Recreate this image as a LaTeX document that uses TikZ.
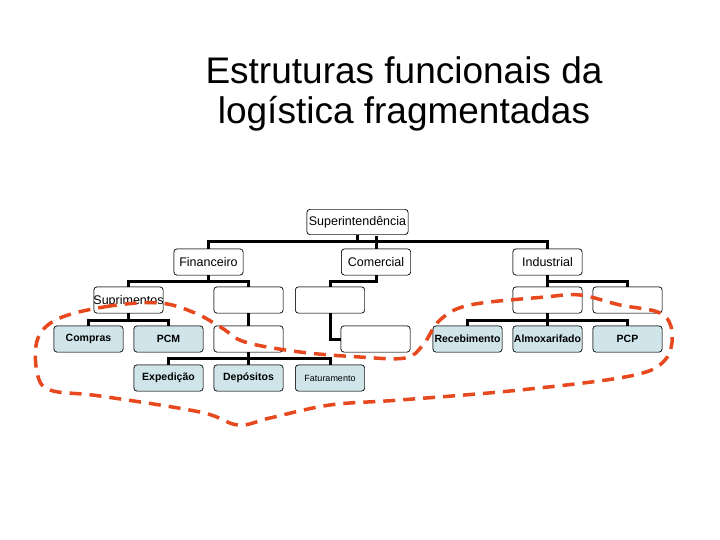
\documentclass[tikz,border=0pt]{standalone}
\usepackage{fontspec}
\setmainfont{Liberation Sans}
\begin{document}
\begin{tikzpicture}[x=1pt,y=-1pt,
  box/.style={draw=black,rounded corners=3pt,minimum width=69pt,minimum height=26pt,inner sep=0pt,fill=white,font=\fontsize{12.5}{14}\selectfont},
  leaf/.style={box,fill={rgb,255:red,207;green,229;blue,234},font=\bfseries\fontsize{10.5}{12}\selectfont},
  conn/.style={line width=3pt},
  loop/.style={draw={rgb,255:red,232;green,72;blue,30},line width=3.5pt,dash pattern=on 12pt off 8pt}]
\useasboundingbox (0,0) rectangle (720,540);
\node[font=\fontsize{37}{40}\selectfont,align=center] (title) at (404,94) {Estruturas funcionais da\\logística fragmentadas};
% boxes
\node[box,minimum width=101pt,minimum height=25pt] (sup) at (357.5,222) {Superintendência};
\node[box] (fin) at (208.5,262) {Financeiro};
\node[box] (com) at (376,262) {Comercial};
\node[box] (ind) at (547.5,262) {Industrial};
\node[box] (supr) at (128.5,300) {};
\node[box] (b1) at (248.5,300) {};
\node[box] (b2) at (330,300) {};
\node[box] (i1) at (547.5,300) {};
\node[box] (i2) at (627.5,300) {};
\node[leaf] (compras) at (88.5,339) {Compras};
\node[leaf] (pcm) at (168.5,339) {PCM};
\node[box] (b3) at (248.5,339) {};
\node[box] (b4) at (375.5,339) {};
\node[leaf] (rec) at (467.5,339) {Recebimento};
\node[leaf] (alm) at (547.5,339) {Almoxarifado};
\node[leaf] (pcp) at (627.5,339) {PCP};
\node[leaf] (exp) at (168.5,378) {Expedição};
\node[leaf] (dep) at (248.5,378) {Depósitos};
\node[leaf,font=\fontsize{9}{11}\selectfont] (fat) at (330,378) {Faturamento};
% connectors
\begin{scope}[conn]
\draw (sup.south) -- ++(0,7) coordinate (s1);
\draw (fin.north) |- (s1) -| (ind.north);
\draw (com.north) -- ++(0,-13);
\draw (fin.south) -- ++(0,6) coordinate (f1);
\draw (supr.north) |- (f1) -| (b1.north);
\draw (com.south) |- (b2.north |- f1) -- (b2.north);
\draw (ind.south) -- ++(0,6) coordinate (n1);
\draw (i1.north) |- (n1) -| (i2.north);
\draw (supr.south) -- ++(0,7) coordinate (u1);
\draw (compras.north) |- (u1) -| (pcm.north);
\draw (b1.south) -- (b3.north);
\draw (b2.south) |- (b4.west);
\draw (b3.south) -- ++(0,6) coordinate (d1);
\draw (exp.north) |- (d1) -| (fat.north);
\draw (dep.north) -- (d1);
\draw (i1.south) -- ++(0,7) coordinate (r1);
\draw (rec.north) |- (r1) -| (pcp.north);
\draw (alm.north) -- (r1);
\end{scope}
\foreach \n in {sup,fin,com,ind,supr,b1,b2,i1,i2,compras,pcm,b3,b4,rec,alm,pcp,exp,dep,fat}{\draw[rounded corners=3pt,fill=none] (\n.south west) rectangle (\n.north east);}
\node[font=\fontsize{12.5}{14}\selectfont] (suprt) at (128.5,301) {Suprimentos};
% dashed loop
\draw[loop] plot[smooth cycle,tension=0.6] coordinates {(160,303) (110,306) (60,318) (38,338) (37,372) (50,390) (100,396) (200,412) (238,425) (270,418) (330,405) (400,400) (520,390) (630,376) (665,360) (672,332) (660,313) (620,305) (580,295) (545,297) (470,305) (440,320) (423,345) (405,358) (360,357) (300,352) (245,342) (222,328) (195,313)};
\end{tikzpicture}
\end{document}
